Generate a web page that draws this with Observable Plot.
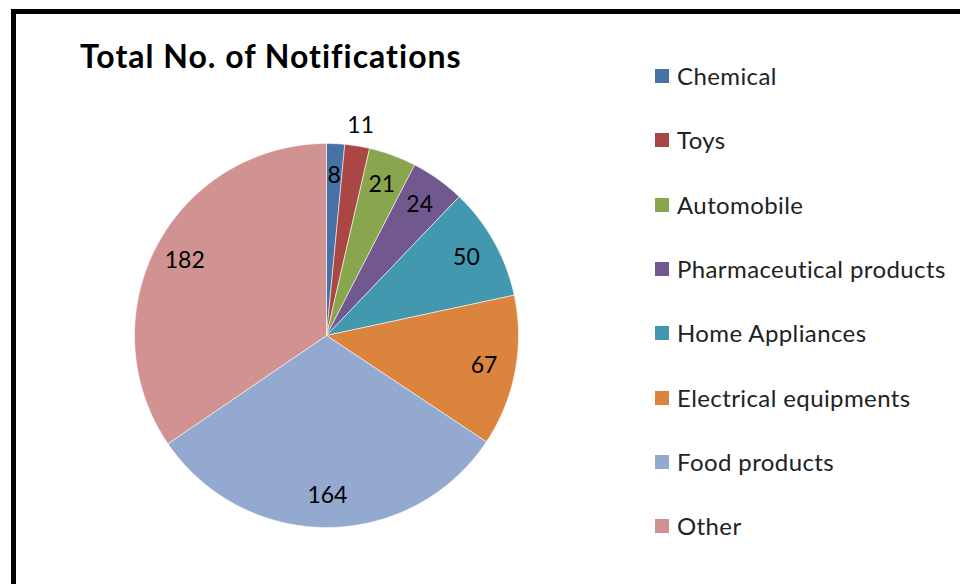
<!DOCTYPE html>
<html>
<head>
<meta charset="utf-8">
<script src="https://cdn.jsdelivr.net/npm/d3@7"></script>
<script src="https://cdn.jsdelivr.net/npm/@observablehq/plot@0.6"></script>
<style>
  html, body { margin: 0; padding: 0; background: #fff; }
  #wrap { position: relative; width: 960px; height: 584px; overflow: hidden; font-family: Lato, "Open Sans", sans-serif; }
  #border { position: absolute; left: 11px; top: 9px; right: -10px; bottom: -10px; border-left: 5px solid #000; border-top: 5px solid #000; box-shadow: 0 1px 0 #bbb; }
  #title { position: absolute; left: 80px; top: 36px; font-size: 32px; letter-spacing: 1px; font-weight: bold; color: #000; white-space: nowrap; line-height: 40px; }
  #legend { position: absolute; left: 655px; top: 0; }
  .item { position: absolute; left: 0; white-space: nowrap; font-size: 24px; letter-spacing: 0.4px; color: #222; height: 28px; line-height: 28px; }
  .sw { position: absolute; left: 0; top: 7px; width: 14px; height: 14px; }
  .lab { position: absolute; left: 22px; top: 0; }
  #chart { position: absolute; left: 0; top: 0; }
</style>
</head>
<body>
<div id="wrap">
  <div id="chart"></div>
  <div id="border"></div>
  <div id="title">Total No. of Notifications</div>
  <div id="legend"></div>
</div>
<script>
const categories = ["Chemical", "Toys", "Automobile", "Pharmaceutical products", "Home Appliances", "Electrical equipments", "Food products", "Other"];
const values = [8, 11, 21, 24, 50, 67, 164, 182];
const colors = ["#4572A7", "#AA4643", "#89A54E", "#71588F", "#4198AF", "#DB843D", "#93A9CF", "#D19392"];
const outsideLabels = ["Toys"];

const data = categories.map((c, i) => ({category: c, value: values[i]}));
const arcs = d3.pie().sort(null).value(d => d.value)(data);

// polygon outlines of the slices in unit-circle coordinates
const outline = [];
for (const a of arcs) {
  const c = a.data.category;
  outline.push({category: c, x: 0, y: 0});
  const n = Math.max(2, Math.ceil((a.endAngle - a.startAngle) / 0.01));
  for (let k = 0; k <= n; k++) {
    const t = a.startAngle + (a.endAngle - a.startAngle) * k / n;
    outline.push({category: c, x: Math.sin(t), y: Math.cos(t)});
  }
  outline.push({category: c, x: 0, y: 0});
}
const labels = arcs.map(a => {
  const m = (a.startAngle + a.endAngle) / 2;
  const r = outsideLabels.includes(a.data.category) ? 1.11 : 0.835;
  return {label: String(a.data.value), x: r * Math.sin(m), y: r * Math.cos(m)};
});

const cx = 326, cy = 335, R = 192;
const chart = Plot.plot({
  width: 960, height: 584,
  margin: 0,
  x: {domain: [-1, 1], range: [cx - R, cx + R], axis: null},
  y: {domain: [-1, 1], range: [cy + R, cy - R], axis: null},
  color: {domain: categories, range: colors},
  style: {background: "transparent"},
  marks: [
    Plot.line(outline, {x: "x", y: "y", z: "category", fill: "category", stroke: "white", strokeWidth: 0.8, strokeOpacity: 0.7, curve: "linear"}),
    Plot.text(labels, {x: "x", y: "y", text: "label", fontSize: 23, fill: "#000", fontFamily: "Lato, sans-serif", style: "letter-spacing:0.5px"})
  ]
});
document.getElementById("chart").appendChild(chart);

const legend = document.getElementById("legend");
categories.forEach((c, i) => {
  const it = document.createElement("div");
  it.className = "item";
  it.style.top = (62 + i * 64.3) + "px";
  const sw = document.createElement("div");
  sw.className = "sw";
  sw.style.background = colors[i];
  const lb = document.createElement("div");
  lb.className = "lab";
  lb.textContent = c;
  it.appendChild(sw); it.appendChild(lb);
  legend.appendChild(it);
});
</script>
</body>
</html>
